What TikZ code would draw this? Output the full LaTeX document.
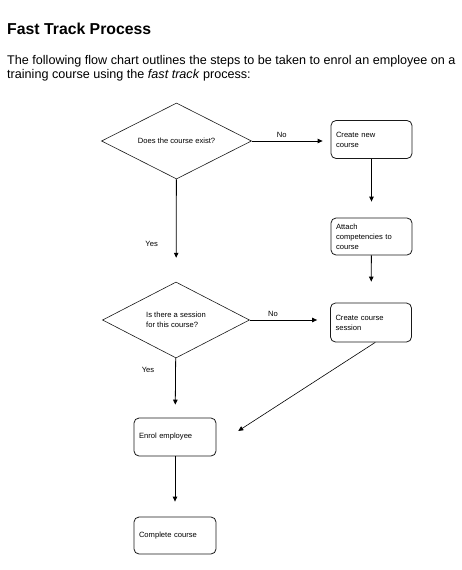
\documentclass[tikz,border=0pt]{standalone}
\usepackage{fontspec}
\setmainfont{Liberation Sans}
\usetikzlibrary{arrows.meta,shapes.geometric,calc}
\definecolor{LineClr}{rgb}{0.1,0.1,0.1}

\begin{document}
\begin{tikzpicture}[x=1pt,y=-1pt,
  small/.style={font=\fontsize{7.6}{10}\selectfont},
  decision/.style={small,diamond,aspect=2,draw=LineClr,line width=0.6pt,inner sep=0pt,
    minimum width=150pt,minimum height=76pt,align=left},
  process/.style={small,draw=LineClr,line width=0.8pt,rounded corners=5pt,
    minimum width=81pt,minimum height=38pt,text width=71pt,inner xsep=5pt,align=left},
  flow/.style={line width=0.8pt,-{Triangle[length=5pt,width=4.5pt]}},
  lbl/.style={small,inner sep=1pt}]
\useasboundingbox (0,0) rectangle (462,570);

% heading and intro text
\node[anchor=base west,inner sep=0pt,font=\fontsize{15.8}{19}\selectfont\bfseries] (title) at (7,34) {Fast Track Process};
\node[anchor=base west,inner sep=0pt,font=\fontsize{12.6}{14}\selectfont] (introA) at (7,64)
  {The following flow chart outlines the steps to be taken to enrol an employee on a};
\node[anchor=base west,inner sep=0pt,font=\fontsize{12.6}{14}\selectfont] (introB) at (7,78)
  {training course using the \textit{fast track} process:};

% decisions
\node[decision] (exist) at (176.5,141) {Does the course exist?};
\node[decision,minimum width=147pt] (slot) at (176,320) {Is there a session\\for this course?};

% steps
\node[process] (new) at (371.5,139.5) {Create new\\course};
\node[process,minimum height=37pt] (attach) at (371.5,236.5) {Attach\\competencies to\\course};
\node[process,minimum height=39pt] (session) at (371,322.5) {Create course\\session};
\node[process,minimum width=82pt,text width=72pt] (enrol) at (175,437) {Enrol employee};
\node[process,minimum width=82pt,text width=72pt,minimum height=37pt] (done) at (175,535.5) {Complete course};

% connectors
\draw[flow,shorten >=8pt] (exist.east) -- node[lbl,above=2pt,pos=0.38] {No} (exist.east -| new.west);
\draw[flow,shorten >=16pt] (new) -- (attach);
\draw[flow,shorten >=21pt] (attach) -- (session);
\draw[flow,shorten >=24pt] (exist) -- node[lbl,left=17pt,pos=0.63] {Yes} (slot);
\draw[flow,shorten >=13pt] (slot.east) -- node[lbl,above=2pt,pos=0.29] {No} (slot.east -| session.west);
\draw[flow,shorten >=13pt] (slot) -- node[lbl,left=20pt,pos=0.2] {Yes} (enrol);
\draw[flow,shorten >=15pt] (enrol) -- (done);
\draw[flow,line width=0.6pt,shorten >=26pt] (session.-78) -- (enrol.-11);

\end{tikzpicture}
\end{document}
